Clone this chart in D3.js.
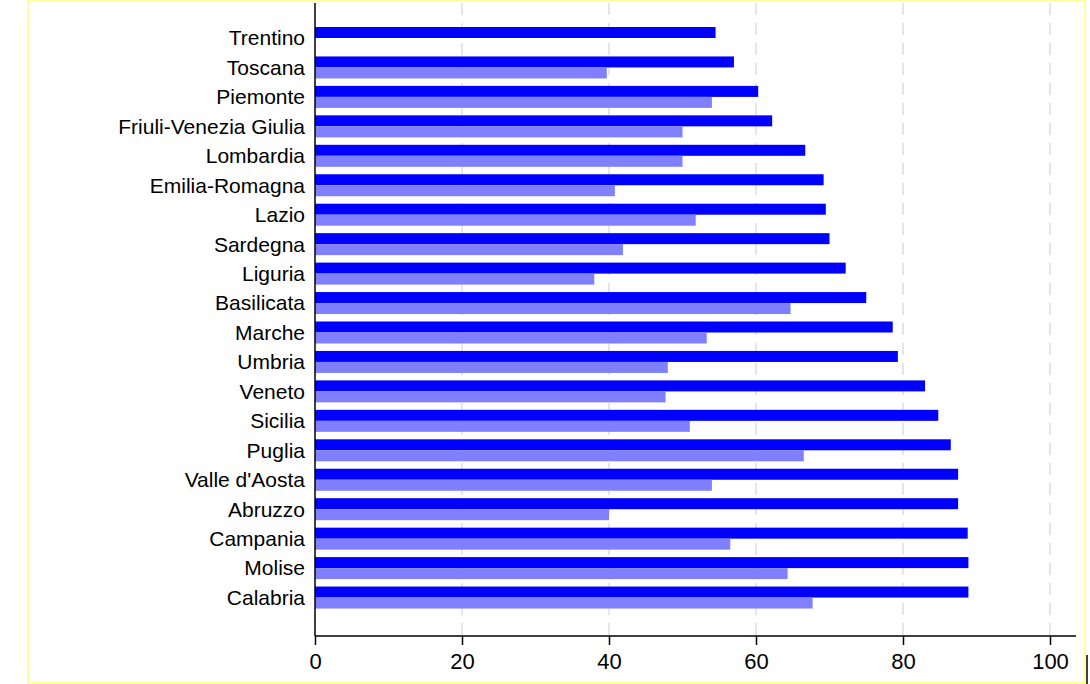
<!DOCTYPE html><html><head><meta charset="utf-8"><script src="https://cdn.jsdelivr.net/npm/d3@7"></script>
<style>body{margin:0;background:#fff}</style></head><body><svg id="c" width="1090" height="684"></svg><script>
const regions=["Trentino","Toscana","Piemonte","Friuli-Venezia Giulia","Lombardia","Emilia-Romagna","Lazio","Sardegna","Liguria","Basilicata","Marche","Umbria","Veneto","Sicilia","Puglia","Valle d'Aosta","Abruzzo","Campania","Molise","Calabria"];
const series1=[54.5,57,60.3,62.2,66.7,69.2,69.5,70,72.2,75,78.6,79.3,83,84.8,86.5,87.5,87.5,88.8,88.9,88.9];
const series2=[null,39.7,54,50,50,40.8,51.8,41.9,38,64.7,53.3,48,47.7,51,66.5,54,40,56.5,64.3,67.7];
const ticks=[0,20,40,60,80,100];
const svg=d3.select("#c");
const x=d3.scaleLinear().domain([0,100]).range([315,1050]);
const y=d3.scaleBand().domain(regions).range([23.5,612.5]);
svg.append("rect").attr("x",28).attr("y",0).attr("width",1057).attr("height",683).attr("fill","none").attr("stroke","#ffff80").attr("stroke-width",1.5);
svg.selectAll(".g").data(ticks.slice(1)).join("line").attr("x1",d=>x(d)).attr("x2",d=>x(d)).attr("y1",3).attr("y2",636).attr("stroke","#e6e6e6").attr("stroke-width",2).attr("stroke-dasharray","12,8");
svg.selectAll(".b1").data(regions).join("rect").attr("x",x(0)).attr("y",d=>y(d)+3.5).attr("height",11).attr("width",(d,i)=>x(series1[i])-x(0)).attr("fill","#0000ff");
svg.selectAll(".b2").data(regions.filter((d,i)=>series2[i]!=null)).join("rect").attr("x",x(0)).attr("y",d=>y(d)+14.5).attr("height",11).attr("width",d=>x(series2[regions.indexOf(d)])-x(0)).attr("fill","#8080ff");
svg.selectAll(".lab").data(regions).join("text").attr("x",305).attr("y",d=>y(d)+14.5).attr("dy","0.35em").attr("text-anchor","end").attr("font-family","Liberation Sans, Arial").attr("font-size",21).text(d=>d);
const ax=svg.append("g").attr("transform","translate(0,636)").call(d3.axisBottom(x).tickValues(ticks).tickSize(9).tickPadding(8));
ax.select(".domain").attr("d","M315,0H1076").attr("stroke-width",1.5);
ax.selectAll("line").attr("stroke-width",1.5);
ax.selectAll("text").attr("font-family","Liberation Sans, Arial").attr("font-size",22).attr("fill","#000");
svg.append("line").attr("x1",315).attr("x2",315).attr("y1",3).attr("y2",636).attr("stroke","#000").attr("stroke-width",1.5);
svg.append("line").attr("x1",1087).attr("x2",1087).attr("y1",655).attr("y2",684).attr("stroke","#000").attr("stroke-width",1.5);
</script></body></html>
